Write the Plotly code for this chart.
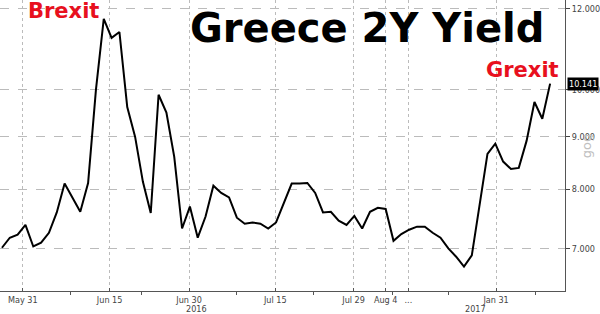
import math
import plotly.graph_objects as go

# Data: Greece 2Y yield, one value per trading day (index-based axis)
yields = [7.01, 7.17, 7.22, 7.38, 7.03, 7.09, 7.25, 7.59, 8.10, 7.85,
          7.60, 8.11, 10.00, 11.73, 11.24, 11.39, 9.62, 9.00, 8.13, 7.58,
          9.89, 9.50, 8.60, 7.32, 7.69, 7.17, 7.52, 8.06, 7.93, 7.85,
          7.50, 7.40, 7.42, 7.40, 7.32, 7.42, 7.76, 8.10, 8.10, 8.11,
          7.93, 7.59, 7.60, 7.45, 7.38, 7.53, 7.32, 7.60, 7.67, 7.65,
          7.12, 7.23, 7.30, 7.35, 7.35, 7.25, 7.17, 7.00, 6.87, 6.72,
          6.89, 7.69, 8.66, 8.86, 8.51, 8.37, 8.39, 8.92, 9.73, 9.37,
          10.141]
x_idx = list(range(len(yields)))

x_tick_pos = [2.67, 13.75, 23.9, 34.9, 44.9, 49.0, 51.9, 63.1]
x_tick_text = ["May 31", "Jun 15", "Jun 30", "Jul 15", "Jul 29", "Aug 4", "...", "Jan 31"]
x_minor_pos = [8.8, 17.8, 29.9, 39.8, 49.9, 57.0, 68.1]
year_pos = [24.8, 60.5]
year_text = ["2016", "2017"]

y_tick_vals = [7, 8, 9, 10, 12]
y_tick_text = ["7.000", "8.000", "9.000", "10.000", "12.000"]
last_value = yields[-1]

fig = go.Figure()
fig.add_trace(go.Scatter(x=x_idx, y=yields, mode="lines",
                         line=dict(color="black", width=2), hoverinfo="skip"))

tick_font = dict(family="DejaVu Sans Condensed, Liberation Sans Narrow, sans-serif", size=9, color="#444")

fig.update_layout(
    width=600, height=314,
    margin=dict(l=0, r=33, t=0, b=23),
    paper_bgcolor="white", plot_bgcolor="white",
    showlegend=False,
    xaxis=dict(
        range=[-0.25, 71.9],
        tickmode="array", tickvals=x_tick_pos, ticktext=x_tick_text,
        tickfont=tick_font, ticks="inside", ticklen=3, tickcolor="#555",
        ticklabelstandoff=0,
        showgrid=True, gridcolor="#bbbbbb", griddash="dot", gridwidth=1,
        showline=True, linecolor="#555", linewidth=1,
        zeroline=False,
        minor=dict(tickvals=x_minor_pos, ticks="outside", ticklen=3, tickcolor="#555", showgrid=False),
    ),
    yaxis=dict(
        type="log", side="right",
        range=[math.log10(6.36), math.log10(12.24)],
        tickmode="array", tickvals=y_tick_vals, ticktext=y_tick_text,
        tickfont=tick_font, ticks="outside", ticklen=4, tickcolor="#444",
        showgrid=True, gridcolor="#bbbbbb", griddash="dash", gridwidth=1,
        showline=True, linecolor="#555", linewidth=1,
        zeroline=False,
    ),
)

for pos, txt in zip(year_pos, year_text):
    fig.add_annotation(x=pos, y=0, xref="x", yref="paper", text=txt, showarrow=False,
                       yanchor="middle", yshift=-17.5, borderpad=0, font=tick_font)

fig.add_annotation(x=0.332, y=0.99, xref="paper", yref="paper", text="<b>Greece 2Y Yield</b>",
                   showarrow=False, xanchor="left", yanchor="top",
                   font=dict(family="DejaVu Sans", size=40, color="black"))
fig.add_annotation(x=0.046, y=1.01, xref="paper", yref="paper", text="<b>Brexit</b>",
                   showarrow=False, xanchor="left", yanchor="top",
                   font=dict(family="DejaVu Sans", size=21, color="#e8101e"))
fig.add_annotation(x=61.5, y=math.log10(10.45), xref="x", yref="y", text="<b>Grexit</b>",
                   showarrow=False, xanchor="left", yanchor="middle",
                   font=dict(family="DejaVu Sans", size=21, color="#e8101e"))

fig.add_annotation(x=1.0, y=math.log10(last_value), xref="paper", yref="y",
                   text=f"{last_value:.3f}", showarrow=False, xanchor="left", yanchor="middle",
                   xshift=2, bgcolor="black", borderpad=1,
                   font=dict(family="DejaVu Sans Condensed, sans-serif", size=9, color="white"))

fig.add_annotation(x=1.0, y=math.log10(8.8), xref="paper", yref="y", text="gog",
                   showarrow=False, xanchor="left", textangle=-90, xshift=12,
                   font=dict(family="DejaVu Sans", size=13, color="#c0c0c0"))

fig.write_html("out.html")
